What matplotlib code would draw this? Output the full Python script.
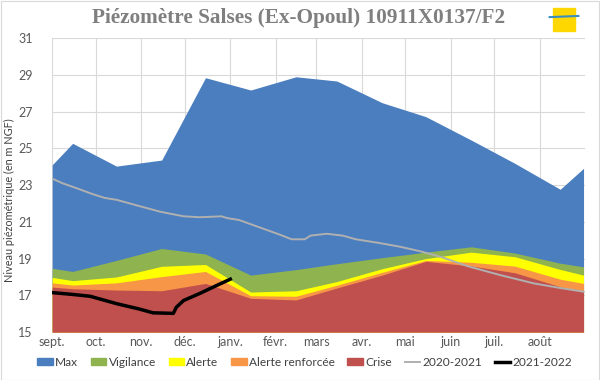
import pandas as pd
import matplotlib.pyplot as plt
from matplotlib.patches import Patch, Rectangle
from matplotlib.lines import Line2D

# threshold bands (m NGF), mid-month points + ends of the hydrological year
band_dates = ['2021-09-01', '2021-09-15', '2021-10-15', '2021-11-15', '2021-12-15',
              '2022-01-15', '2022-02-15', '2022-03-15', '2022-04-15', '2022-05-15',
              '2022-06-15', '2022-07-15', '2022-08-15', '2022-08-31']
max_lvl = [24.1, 25.27, 24.03, 24.36, 28.84, 28.17, 28.89, 28.66, 27.48, 26.72, 25.45, 24.18, 22.77, 23.91]
vigilance = [18.47, 18.3, 18.9, 19.55, 19.25, 18.1, 18.4, 18.72, 19.05, 19.35, 19.64, 19.3, 18.75, 18.55]
alerte = [17.98, 17.8, 18.0, 18.58, 18.68, 17.18, 17.25, 17.75, 18.45, 19.0, 19.35, 19.1, 18.41, 18.1]
alerte_renf = [17.68, 17.56, 17.68, 18.02, 18.3, 16.98, 16.95, 17.55, 18.25, 18.9, 18.8, 18.59, 17.88, 17.65]
crise = [17.45, 17.36, 17.29, 17.25, 17.65, 16.84, 16.75, 17.4, 18.1, 18.85, 18.6, 18.23, 17.47, 17.19]

# 2020-2021 levels, shown on the same hydrological year
prev_dates = ['2021-09-01', '2021-09-08', '2021-09-17', '2021-09-29', '2021-10-07', '2021-10-15',
              '2021-10-31', '2021-11-14', '2021-11-30', '2021-12-11', '2021-12-26', '2021-12-30',
              '2022-01-07', '2022-01-21', '2022-02-04', '2022-02-12', '2022-02-21', '2022-02-25',
              '2022-03-08', '2022-03-19', '2022-03-28', '2022-04-13', '2022-04-27', '2022-05-11',
              '2022-05-25', '2022-06-12', '2022-07-05', '2022-07-28', '2022-08-15', '2022-08-31']
prev_lvl = [23.35, 23.1, 22.85, 22.5, 22.3, 22.2, 21.85, 21.55, 21.3, 21.25, 21.3, 21.2,
            21.1, 20.7, 20.3, 20.05, 20.05, 20.25, 20.35, 20.25, 20.05, 19.85, 19.65, 19.4,
            19.1, 18.6, 18.1, 17.65, 17.4, 17.2]

# 2021-2022 levels
cur_dates = ['2021-09-01', '2021-09-15', '2021-09-27', '2021-10-15', '2021-10-31', '2021-11-09',
             '2021-11-23', '2021-11-25', '2021-11-30', '2021-12-11', '2021-12-23', '2022-01-01']
cur_lvl = [17.15, 17.05, 16.95, 16.55, 16.25, 16.05, 16.02, 16.35, 16.72, 17.1, 17.55, 17.88]

months = ['sept.', 'oct.', 'nov.', 'déc.', 'janv.', 'févr.', 'mars', 'avr.', 'mai', 'juin', 'juil.', 'août']

plt.rcParams['font.family'] = ['Lato', 'DejaVu Sans']

bx = pd.to_datetime(band_dates)
px = pd.to_datetime(prev_dates)
cx = pd.to_datetime(cur_dates)

fig = plt.figure(figsize=(6, 3.8), dpi=100)
ax = fig.add_axes([0.087, 0.126, 0.888, 0.774])

c_max = '#4a7ebf'
c_vig = '#8fb44f'
c_ale = '#ffff00'
c_ren = '#f79646'
c_cri = '#c0504d'

ax.fill_between(bx, 15, max_lvl, color=c_max, lw=0, zorder=2)
ax.fill_between(bx, 15, vigilance, color=c_vig, lw=0, zorder=2)
ax.fill_between(bx, 15, alerte, color=c_ale, lw=0, zorder=2)
ax.fill_between(bx, 15, alerte_renf, color=c_ren, lw=0, zorder=2)
ax.fill_between(bx, 15, crise, color=c_cri, lw=0, zorder=2)
ax.plot(px, prev_lvl, color='#b0b0b0', lw=1.4, zorder=3)
ax.plot(cx, cur_lvl, color='black', lw=2.5, zorder=4)

ax.set_xlim(pd.Timestamp('2021-09-01'), pd.Timestamp('2022-09-01'))
ax.set_ylim(15, 31)
ax.set_yticks(range(15, 32, 2))
ax.set_xticks(pd.date_range('2021-09-01', periods=12, freq='MS'))
ax.set_xticklabels(months)
ax.tick_params(axis='both', length=0, labelsize=9, colors='#595959')
ax.tick_params(axis='x', pad=3)
ax.tick_params(axis='y', pad=14)
ax.grid(True, color='#d9d9d9', lw=0.8, zorder=0)
ax.set_axisbelow(True)
for s in ax.spines.values():
    s.set_visible(False)
ax.set_ylabel('Niveau piézométrique (en m NGF)', fontsize=7.8, color='#404040', labelpad=4)
ax.yaxis.set_label_coords(-0.07, 0.45)

fig.text(0.497, 0.952, 'Piézomètre Salses (Ex-Opoul) 10911X0137/F2', ha='center', va='center',
         fontsize=15.3, fontweight='bold', color='#7f7f7f', family='Liberation Serif')

# small logo box top-right
fig.patches.append(Rectangle((0.921, 0.918), 0.037, 0.062, transform=fig.transFigure,
                             color='#ffd700', zorder=5))
fig.lines.append(Line2D([0.916, 0.964], [0.955, 0.958], transform=fig.transFigure,
                        color='#3a8fc0', lw=1.5, zorder=6))

handles = [Patch(color=c_max, label='Max'),
           Patch(color=c_vig, label='Vigilance'),
           Patch(color=c_ale, label='Alerte'),
           Patch(color=c_ren, label='Alerte renforcée'),
           Patch(color=c_cri, label='Crise'),
           Line2D([], [], color='#b0b0b0', lw=1.4, label='2020-2021'),
           Line2D([], [], color='black', lw=2.5, label='2021-2022')]
fig.legend(handles=handles, loc='center', bbox_to_anchor=(0.508, 0.047), ncol=7, frameon=False,
           fontsize=8.6, handlelength=1.3, handleheight=0.6, handletextpad=0.2,
           columnspacing=1.05, labelcolor='#404040')

fig.patches.append(Rectangle((0.001, 0.001), 0.997, 0.997, transform=fig.transFigure,
                             fill=False, edgecolor='#d9d9d9', lw=0.8))

plt.savefig('out.png', dpi=100)
